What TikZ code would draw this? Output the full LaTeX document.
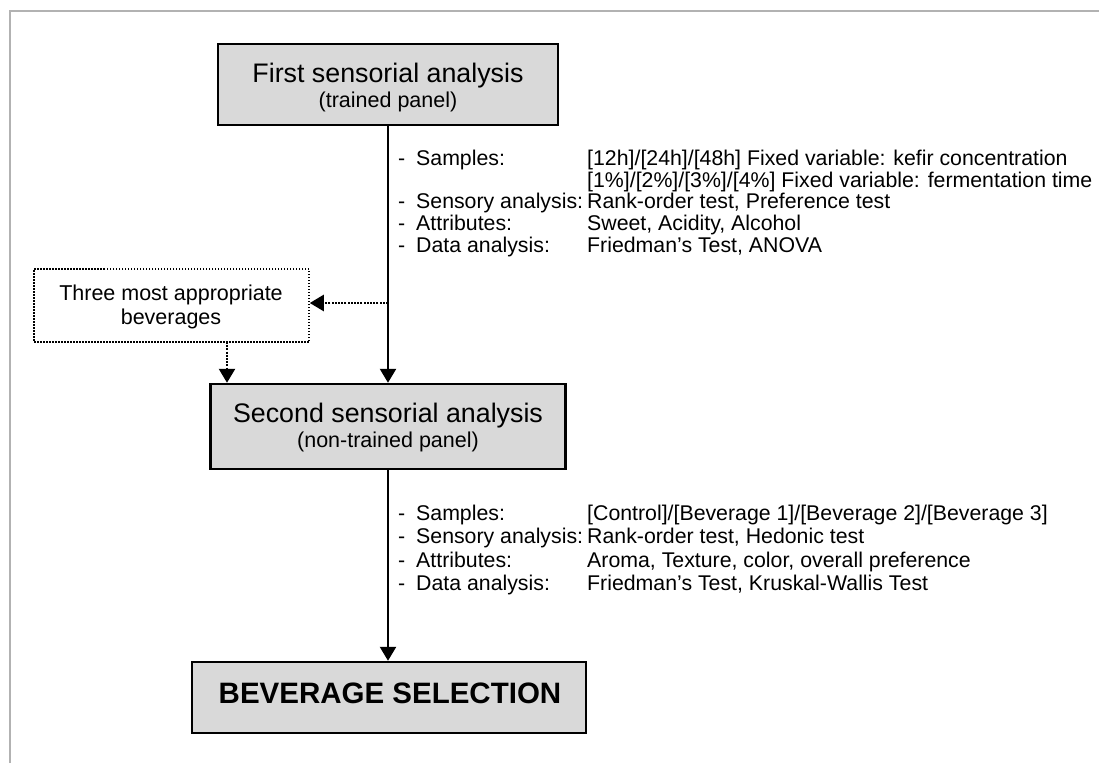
\documentclass[tikz,border=0pt]{standalone}
\usepackage{fontspec}
\setmainfont{Liberation Sans}
\usetikzlibrary{arrows.meta}
\begin{document}
\begin{tikzpicture}[x=1pt,y=-1pt,
  box/.style={draw=black, line width=2.4pt, fill=black!15, inner sep=0pt},
  dotbox/.style={draw=black, line width=1.5pt, dash pattern=on 1.5pt off 1.5pt, inner sep=0pt},
  conn/.style={line width=2.3pt, -{Triangle[width=16pt,length=14pt]}},
  dconn/.style={line width=2.3pt, dash pattern=on 2pt off 1.2pt, -{Triangle[width=16pt,length=14pt]}},
  big/.style={anchor=base, inner sep=0pt, font=\fontsize{26.8}{30}\selectfont},
  small/.style={anchor=base, inner sep=0pt, font=\fontsize{21.5}{24}\selectfont},
  final/.style={anchor=base, inner sep=0pt, font=\fontsize{29.5}{32}\selectfont\bfseries},
  lbl/.style={anchor=base west, inner sep=0pt, font=\fontsize{21.3}{22}\selectfont}]
\useasboundingbox (0,0) rectangle (1099,763);
\draw[black!30, line width=1.5pt] (10,763) -- (10,11) -- (1099,11);

% boxes
\node[box, minimum width=340pt, minimum height=81pt] (b1) at (388,84.5) {};
\node[big] (b1t) at (388,82) {First sensorial analysis};
\node[small] (b1s) at (388,107) {(trained panel)};

\node[box, minimum width=355pt, minimum height=85pt] (b2) at (388,426.5) {};
\node[big] (b2t) at (388,422) {Second sensorial analysis};
\node[small] (b2s) at (388,447) {(non-trained panel)};

\node[box, minimum width=394pt, minimum height=71pt] (b3) at (389,697.5) {};
\node[final] (b3t) at (390,703) {BEVERAGE SELECTION};

\node[dotbox, minimum width=275pt, minimum height=73pt] (db) at (171.5,305.5) {};
\node[small] (dbt1) at (171,300) {Three most appropriate};
\node[small] (dbt2) at (171,324) {beverages};

% connectors
\draw[conn] (b1.south) -- (b2.north);
\draw[conn] (b2.south) -- (b2.south |- b3.north);
\coordinate (tap) at (388,303);
\draw[dconn] (tap) -- (tap -| db.east);
\coordinate (dd) at (227,342);
\draw[dconn] (dd) -- (dd |- b2.north);

% first list
\node[lbl] (d1) at (398,165) {-};
\node[lbl] (l1) at (416,165) {Samples:};
\node[lbl] (v1) at (587,165) {[12h]/[24h]/[48h] Fixed variable: kefir concentration};
\node[lbl] (v1b) at (587,187) {[1\%]/[2\%]/[3\%]/[4\%] Fixed variable: fermentation time};
\node[lbl] (d2) at (398,208.5) {-};
\node[lbl] (l2) at (416,208.5) {Sensory analysis:};
\node[lbl] (v2) at (587,208.5) {Rank-order test, Preference test};
\node[lbl] (d3) at (398,230.5) {-};
\node[lbl] (l3) at (416,230.5) {Attributes:};
\node[lbl] (v3) at (587,230.5) {Sweet, Acidity, Alcohol};
\node[lbl] (d4) at (398,252.5) {-};
\node[lbl] (l4) at (416,252.5) {Data analysis:};
\node[lbl] (v4) at (587,252.5) {Friedman’s Test, ANOVA};

% second list
\node[lbl] (e1) at (398,520) {-};
\node[lbl] (m1) at (416,520) {Samples:};
\node[lbl] (w1) at (587,520) {[Control]/[Beverage 1]/[Beverage 2]/[Beverage 3]};
\node[lbl] (e2) at (398,543.5) {-};
\node[lbl] (m2) at (416,543.5) {Sensory analysis:};
\node[lbl] (w2) at (587,543.5) {Rank-order test, Hedonic test};
\node[lbl] (e3) at (398,567) {-};
\node[lbl] (m3) at (416,567) {Attributes:};
\node[lbl] (w3) at (587,567) {Aroma, Texture, color, overall preference};
\node[lbl] (e4) at (398,590.5) {-};
\node[lbl] (m4) at (416,590.5) {Data analysis:};
\node[lbl] (w4) at (587,590.5) {Friedman’s Test, Kruskal-Wallis Test};
\end{tikzpicture}
\end{document}
